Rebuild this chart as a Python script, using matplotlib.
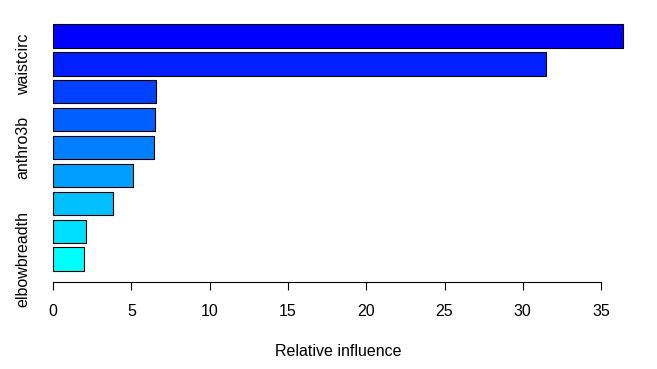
import colorsys
import matplotlib
matplotlib.use("Agg")
import matplotlib.pyplot as plt

# relative influence, most important first (top bar first)
variables = ["hipcirc", "waistcirc", "kneebreadth", "anthro3c", "anthro3b",
             "anthro3a", "anthro4", "age", "elbowbreadth"]
influence = [36.4, 31.5, 6.6, 6.5, 6.45, 5.1, 3.85, 2.1, 1.95]
shown_labels = ["waistcirc", "anthro3b", "elbowbreadth"]
x_ticks = [0, 5, 10, 15, 20, 25, 30, 35]

plt.rcParams['font.family'] = ['Liberation Sans', 'DejaVu Sans']
fs = 11.5

n = len(variables)
# rainbow(n, start=3/6, end=4/6) -> cyan to blue, most important is blue
hues = [0.5 + (4 / 6 - 0.5) * i / (n - 1) for i in range(n)]
colors = [colorsys.hsv_to_rgb(h, 1, 1) for h in hues][::-1]

fig = plt.figure(figsize=(6.57, 3.69), dpi=100)
ax = fig.add_axes([0.0807, 0.2528, 0.8676, 0.6949])

ypos = list(range(n - 1, -1, -1))
ax.barh(ypos, influence, height=0.833, color=colors, edgecolor='black',
        linewidth=0.8, clip_on=False)

ax.set_xlim(0, 36.4)
ax.set_ylim(-0.6, n - 0.4)

ax.spines['top'].set_visible(False)
ax.spines['right'].set_visible(False)
ax.spines['left'].set_visible(False)
ax.spines['bottom'].set_position(('outward', 4.5))
ax.spines['bottom'].set_bounds(0, 35)
ax.spines['bottom'].set_linewidth(0.8)

ax.set_xticks(x_ticks)
ax.set_xticklabels([str(t) for t in x_ticks], fontsize=fs)
ax.tick_params(axis='x', length=6, width=0.8, pad=10)

label_pos = [ypos[variables.index(v)] for v in shown_labels]
ax.set_yticks(label_pos)
ax.set_yticklabels(shown_labels, rotation=90, va='center', fontsize=fs)
ax.tick_params(axis='y', length=0, pad=16)

ax.set_xlabel("Relative influence", fontsize=fs, labelpad=18)

fig.savefig("out.png", dpi=100)
